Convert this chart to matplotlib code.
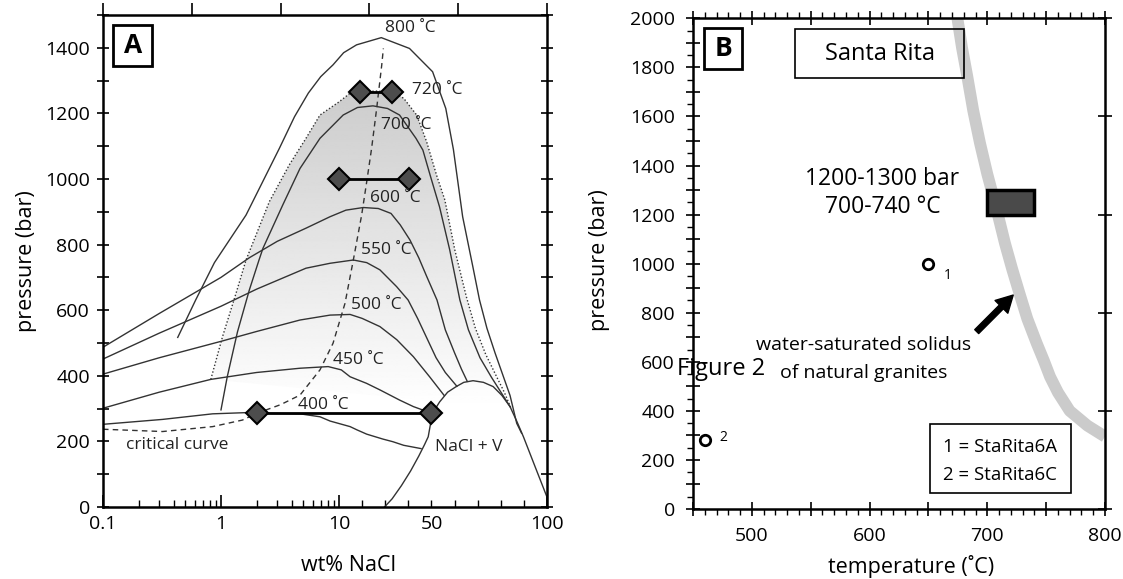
import numpy as np
import matplotlib
matplotlib.use("Agg")
import matplotlib.pyplot as plt
from matplotlib.patches import Polygon, Rectangle
from matplotlib.ticker import FixedLocator, FixedFormatter, FuncFormatter, MultipleLocator

plt.rcParams['font.family'] = ['Open Sans', 'DejaVu Sans']

# ---- panel A: isotherms in H2O-NaCl (wt% NaCl, bar) ----
t400_x = [0.1, 0.32, 0.85, 1.74, 2.03, 4.67, 6.9, 8.4, 14.8, 17.8, 22, 29, 33.3, 38, 45.5]
t400_p = [252, 267, 284, 288, 286, 284, 275, 262, 245, 235, 222, 207, 199, 188, 178]
t450_x = [0.1, 0.3, 0.82, 2, 4.67, 8.1, 11, 14.8, 21.9, 27.7, 36.2, 42.2, 50.4]
t450_p = [301, 350, 389, 410, 423, 428, 418, 397, 377, 357, 326, 306, 285]
t500_x = [0.1, 0.3, 1, 2, 4.67, 8.4, 14.8, 20, 27.7, 35, 42.2, 49.2, 55.5]
t500_p = [405, 455, 505, 535, 570, 585, 587, 575, 550, 510, 458, 397, 340]
t550_x = [0.1, 0.3, 1, 2, 5.25, 8.4, 16.2, 22, 27.7, 34.9, 39.9, 44, 48, 52, 56, 61]
t550_p = [451, 530, 612, 664, 728, 743, 753, 745, 723, 672, 631, 575, 515, 455, 410, 368]
t600_x = [0.1, 0.3, 1.0, 1.74, 3.0, 5.25, 8.4, 13, 20.5, 27, 32.5, 36.5, 40.7, 44.5, 48,
          52.4, 56, 60, 63, 65.5]
t600_p = [487, 590, 700, 760, 810, 850, 885, 905, 913, 910, 895, 860, 814, 760, 702,
          631, 540, 470, 420, 383]
t700_x = [1.0, 1.13, 1.38, 1.74, 2.1, 2.27, 3.34, 4.67, 6.9, 11.8, 18, 24.7, 31, 36.2, 43.3,
          46.3, 49.5, 53.5, 57.9, 62.3, 66, 71, 76, 80.5, 84]
t700_p = [296, 397, 534, 662, 753, 789, 921, 1032, 1124, 1195, 1218, 1223, 1215, 1195, 1124,
          1088, 1010, 915, 784, 631, 540, 455, 395, 345, 306]
t720_x = [0.82, 1.03, 1.34, 1.63, 2.57, 3.79, 5.25, 6.9, 10, 14.7, 19, 26, 33, 38, 43.6,
          47.9, 52.2, 55.8, 60.1, 65.1, 69, 73.5, 78, 81.5, 84.5]
t720_p = [389, 519, 651, 753, 931, 1043, 1124, 1195, 1235, 1261, 1266, 1268, 1266, 1246, 1195,
          1114, 1012, 936, 784, 641, 545, 465, 400, 350, 300]
t800_x = [0.43, 0.61, 0.88, 1.63, 3.12, 4.2, 5.5, 7.0, 8.9, 12, 17.6, 28.3, 40.5, 50.5, 56.2,
          59.5, 63.5, 67.9, 70.8, 74, 77.5, 81, 84, 86.9, 89]
t800_p = [517, 631, 745, 890, 1093, 1190, 1262, 1312, 1348, 1385, 1409, 1431, 1398, 1327, 1215,
          1090, 885, 733, 631, 545, 470, 400, 340, 255, 225]
crit_x = [0.1, 0.32, 0.85, 1.52, 2.03, 3.2, 4.67, 6.9, 8.9, 12.6, 16.2, 19.8, 22, 24.1,
          26.3, 28.5, 29.2]
crit_p = [237, 230, 245, 265, 286, 312, 341, 418, 499, 621, 753, 890, 992, 1093,
          1215, 1348, 1398]
halite_x = [29.7, 33, 37, 41, 44.5, 47, 48.6, 50.4, 53.5, 57, 60.7, 64, 68, 72.5, 76.7,
            80.5, 84, 87, 89.8, 95, 100]
halite_p = [0, 25, 65, 110, 155, 190, 214, 285, 320, 350, 367, 380, 385, 380, 367,
            340, 306, 260, 214, 120, 30]

# fluid inclusion ranges (pairs of diamonds)
incl_lo = [2.0, 10.0, 19.0]
incl_hi = [50.0, 40.5, 33.0]
incl_p = [285, 1000, 1265]

iso_labels = ['800 ˚C', '720 ˚C', '700 ˚C', '600 ˚C', '550 ˚C', '500 ˚C', '450 ˚C', '400 ˚C']
iso_lab_x = [40.7, 52.3, 39.3, 34.2, 30.6, 26.1, 18.2, 7.35]
iso_lab_p = [1459, 1271, 1165, 941, 784, 616, 448, 311]

# ---- panel B ----
sol_T = [672, 674.6, 678.5, 683, 688, 693.8, 700, 706.6, 715, 721, 727.3, 734, 742, 748,
         753.3, 760, 770, 785, 800]
sol_P = [2060, 2000, 1880, 1763, 1625, 1491, 1365, 1246, 1083, 980, 879, 775, 675, 605,
         539, 475, 400, 340, 295]
samp_T = [650, 460]
samp_P = [1000, 280]
samp_lab = ['1', '2']

R = 208.0 / 118.0  # width of 10-100 linear part relative to one log decade


def fwd(x):
    x = np.asarray(x, dtype=float)
    lx = np.log10(np.clip(x, 1e-12, None))
    return np.where(x <= 10, lx, 1 + (x - 10) / 90.0 * R)


def inv(y):
    y = np.asarray(y, dtype=float)
    return np.where(y <= 1, 10 ** np.clip(y, -12, 1), 10 + (y - 1) * 90.0 / R)


fig = plt.figure(figsize=(11.23, 5.79), dpi=100)
axA = fig.add_axes([0.0917, 0.1244, 0.3954, 0.8497])
axB = fig.add_axes([0.6171, 0.1209, 0.3669, 0.8475])

FS_TICK = 14
FS_LAB = 15.5
LC = '#333333'

# ================= panel A =================
axA.set_xscale('function', functions=(fwd, inv))
axA.set_xlim(0.1, 100)
axA.set_ylim(0, 1500)
axA.set_autoscale_on(False)

# grey gradient inside the 720 C isotherm
clip = Polygon(np.column_stack([t720_x, t720_p]), closed=True, transform=axA.transData)
bars = np.linspace(0, 1500, 300)
shade = np.clip(1 - (bars - 300) / (1270 - 300) * 0.2, 0.8, 1.0)
img = axA.imshow(shade[:, None], extent=[0, 1, 0, 1], transform=axA.transAxes, origin='lower',
                 aspect='auto', cmap='gray', vmin=0, vmax=1, interpolation='bilinear', zorder=0.5)
img.set_clip_path(clip)

for xs, ps in [(t400_x, t400_p), (t450_x, t450_p), (t500_x, t500_p), (t550_x, t550_p),
               (t600_x, t600_p), (t700_x, t700_p), (t800_x, t800_p), (halite_x, halite_p)]:
    axA.plot(xs, ps, color=LC, lw=1.0, zorder=2)
axA.plot(t720_x, t720_p, color=LC, lw=1.0, ls=(0, (1, 1.5)), zorder=2)
axA.plot(crit_x, crit_p, color=LC, lw=1.0, ls=(0, (4, 3)), zorder=2)

for lo, hi, p in zip(incl_lo, incl_hi, incl_p):
    axA.plot([lo, hi], [p, p], color='black', lw=2, zorder=3)
    axA.plot([lo, hi], [p, p], ls='none', marker='D', ms=11, mfc='#4d4d4d', mec='black',
             mew=1.5, zorder=4)

for s, x, p in zip(iso_labels, iso_lab_x, iso_lab_p):
    axA.text(x, p, s, ha='center', va='center', fontsize=12.5, color='#222222', zorder=5)
axA.text(0.424, 189, 'critical curve', ha='center', va='center', fontsize=12.5, color='#222222')
axA.text(66, 184, 'NaCl + V', ha='center', va='center', fontsize=12.5, color='#222222')

axA.add_patch(Rectangle((0.0232, 0.897), 0.0872, 0.0827, transform=axA.transAxes,
                        fill=False, lw=2, ec='black', zorder=6))
axA.text(0.0668, 0.9385, 'A', transform=axA.transAxes, ha='center', va='center',
         fontsize=19, fontweight='bold', zorder=6)

majx = [0.1, 1, 10, 100]
minx = [0.2, 0.3, 0.4, 0.5, 0.6, 0.7, 0.8, 0.9, 2, 3, 4, 5, 6, 7, 8, 9,
        20, 30, 40, 50, 60, 70, 80, 90]
axA.xaxis.set_major_locator(FixedLocator(majx))
axA.xaxis.set_major_formatter(FixedFormatter(['0.1', '1', '10', '100']))
axA.xaxis.set_minor_locator(FixedLocator(minx))
axA.xaxis.set_minor_formatter(FuncFormatter(lambda v, pos: '50' if abs(v - 50) < 1e-6 else ''))
axA.tick_params(axis='x', which='major', direction='in', length=9, width=1.2,
                labelsize=FS_TICK, pad=6)
axA.tick_params(axis='x', which='minor', direction='in', length=5, width=1.0,
                labelsize=FS_TICK, pad=6)
axA.yaxis.set_major_locator(MultipleLocator(200))
axA.yaxis.set_minor_locator(MultipleLocator(100))
axA.tick_params(axis='y', which='both', direction='inout', length=9, width=1.2,
                labelsize=FS_TICK, pad=5, right=True)
for sp in axA.spines.values():
    sp.set_linewidth(1.8)

axAt = axA.twiny()
axAt.tick_params(axis='x', which='major', direction='out', length=9, width=1.2, labeltop=False)
axAt.tick_params(axis='x', which='minor', direction='out', length=5, width=1.0, labeltop=False)
for sp in axAt.spines.values():
    sp.set_visible(False)

axA.text(-0.173, 0.5, 'pressure (bar)', transform=axA.transAxes, rotation=90,
         ha='center', va='center', fontsize=FS_LAB)
axA.text(0.552, -0.118, 'wt% NaCl', transform=axA.transAxes, ha='center', va='center',
         fontsize=FS_LAB)

# ================= panel B =================
axB.set_xlim(450, 800)
axB.set_ylim(0, 2000)

axB.plot(sol_T, sol_P, color='#cbcbcb', lw=8.5, solid_capstyle='butt', zorder=1)
axB.add_patch(Rectangle((700, 1200), 40, 100, fc='#4a4a4a', ec='black', lw=2.5, zorder=3))
axB.plot(samp_T, samp_P, ls='none', marker='o', ms=7.5, mfc='white', mec='black', mew=2,
         zorder=3)
axB.text(samp_T[0] + 16, samp_P[0] - 50, samp_lab[0], fontsize=10, ha='center', va='center')
axB.text(samp_T[1] + 16, samp_P[1] + 10, samp_lab[1], fontsize=10, ha='center', va='center')

axB.annotate('', xy=(722, 872), xytext=(691, 723),
             arrowprops=dict(facecolor='black', edgecolor='black', width=4, headwidth=13,
                             headlength=12, shrink=0))

axB.add_patch(Rectangle((537, 1756), 143, 199, fill=False, ec='black', lw=1.2, zorder=4))
axB.text(608.5, 1855, 'Santa Rita', ha='center', va='center', fontsize=17)
axB.text(611, 1287, '1200-1300 bar\n700-740 °C', ha='center', va='center', fontsize=16.5,
         linespacing=1.2)
axB.text(595, 668, 'water-saturated solidus', ha='center', va='center', fontsize=14)
axB.text(595, 553, 'of natural granites', ha='center', va='center', fontsize=14)
axB.add_patch(Rectangle((651, 66), 120, 280, fill=False, ec='black', lw=1.2, zorder=4))
axB.text(711, 254, '1 = StaRita6A', ha='center', va='center', fontsize=13.4)
axB.text(711, 139, '2 = StaRita6C', ha='center', va='center', fontsize=13.4)

axB.add_patch(Rectangle((0.0267, 0.896), 0.0933, 0.0836, transform=axB.transAxes,
                        fill=False, lw=2, ec='black', zorder=6))
axB.text(0.0733, 0.938, 'B', transform=axB.transAxes, ha='center', va='center',
         fontsize=19, fontweight='bold', zorder=6)

axB.xaxis.set_major_locator(MultipleLocator(50))
axB.xaxis.set_minor_locator(MultipleLocator(10))
axB.xaxis.set_major_formatter(FuncFormatter(lambda v, pos: '%d' % v if v % 100 == 0 else ''))
axB.yaxis.set_major_locator(MultipleLocator(100))
axB.yaxis.set_minor_locator(MultipleLocator(50))
axB.yaxis.set_major_formatter(FuncFormatter(lambda v, pos: '%d' % v if v % 200 == 0 else ''))
axB.tick_params(axis='both', which='major', direction='inout', length=10, width=1.2,
                labelsize=FS_TICK)
axB.tick_params(axis='both', which='minor', direction='out', length=4, width=1.0)
axB.tick_params(axis='x', which='both', top=True, pad=8)
axB.tick_params(axis='y', which='major', pad=8)
for sp in axB.spines.values():
    sp.set_linewidth(1.8)

axBr = axB.twinx()
axBr.tick_params(axis='y', which='major', direction='inout', length=10, width=1.2,
                 labelright=False)
axBr.tick_params(axis='y', which='minor', direction='in', length=4, width=1.0)
for sp in axBr.spines.values():
    sp.set_visible(False)

axB.text(-0.227, 0.507, 'pressure (bar)', transform=axB.transAxes, rotation=90,
         ha='center', va='center', fontsize=FS_LAB)
axB.text(0.529, -0.1176, 'temperature (˚C)', transform=axB.transAxes, ha='center',
         va='center', fontsize=FS_LAB)

fig.text(0.6026, 0.3625, 'Figure 2', ha='left', va='center', fontsize=17)

fig.savefig('out.png', dpi=100)
